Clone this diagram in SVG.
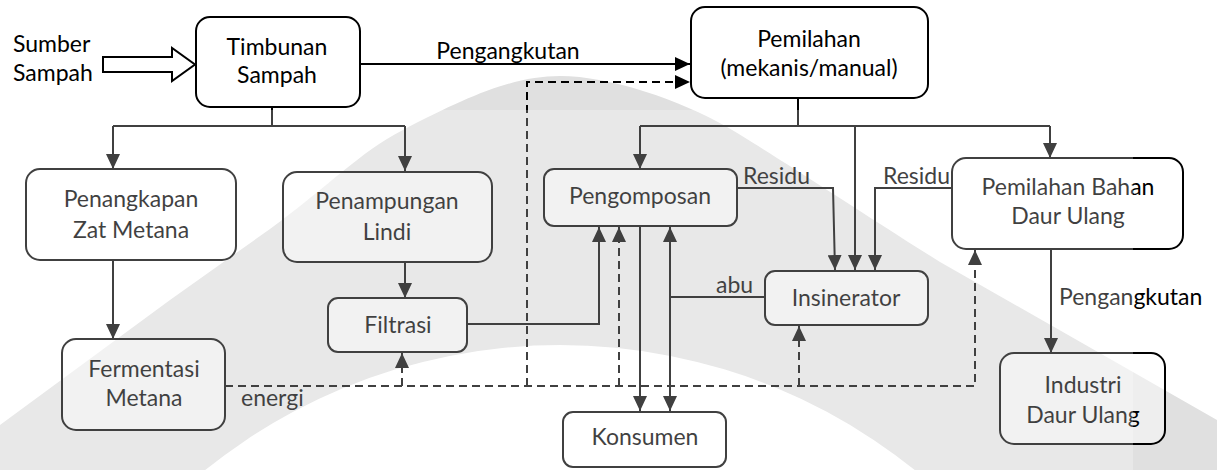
<svg xmlns="http://www.w3.org/2000/svg" width="1217" height="470" viewBox="0 0 1217 470">
<defs>
<style>
text{font-family:Lato,"Liberation Sans",sans-serif;font-size:23px;fill:#000}
.m{text-anchor:middle}
.node rect{fill:#fff;fill-opacity:.45;stroke:#000;stroke-width:2}
.c path{fill:none;stroke:#000;stroke-width:2}
.c .d{stroke-dasharray:8 5}
.c .a{marker-end:url(#ah)}
.c .b{marker-start:url(#ah);marker-end:url(#ah)}
</style>
<marker id="ah" viewBox="0 0 15 14" refX="15" refY="7" markerWidth="15" markerHeight="14" markerUnits="userSpaceOnUse" orient="auto-start-reverse"><path d="M0,0 L15,7 L0,14 Z" fill="#000"/></marker>
</defs>
<rect width="1217" height="470" fill="#fff"/>
<g id="watermark">
<path fill="#e0e0e0" fill-rule="evenodd" d="M0,425 L170,300 L270,229 C330,185 360,152 403,130 C470,95 515,76 560,76 C610,76 680,100 727,127 C760,146 850,205 940,262 L1217,420 V470 H0 Z M-6,911 A566,566 0 1 1 1126,911 A566,566 0 1 1 -6,911 Z"/>
</g>
<g id="connectors" class="c">
<path class="a" d="M360,64 H690"/>
<path d="M272,107 V126 M113,126 H405"/>
<path class="a" d="M113,126 V169"/>
<path class="a" d="M405,126 V171"/>
<path class="a" d="M113,260 V339"/>
<path class="a" d="M405,262 V298"/>
<path class="a" d="M467,324 H599 V227"/>
<path d="M798,98 V126 M640,126 H1050"/>
<path class="a" d="M640,126 V169"/>
<path class="a" d="M855,126 V270"/>
<path class="a" d="M1050,126 V158"/>
<path class="a" d="M737,188 H833 L835,270"/>
<path class="a" d="M952,188 H875 V270"/>
<path d="M765,297 H670"/>
<path class="a" d="M640,227 V411"/>
<path class="b" d="M670,227 V411"/>
<path class="a" d="M1051,249 V353"/>
<path class="d a" d="M225,386 H975 V250"/>
<path class="d a" d="M527,386 V82 H690"/>
<path class="d a" d="M402,386 V353"/>
<path class="d a" d="M619,386 V227"/>
<path class="d a" d="M799,386 V326"/>
<text x="508" y="59" class="m">Pengangkutan</text>
<text x="743" y="184">Residu</text>
<text x="883" y="184">Residu</text>
<text x="716" y="293">abu</text>
<text x="241" y="406">energi</text>
<text x="1059" y="305">Pengangkutan</text>
</g>
<g id="sumber">
<path d="M103,57 H172 V48 L195,64.5 L172,81 V72 H103 Z" fill="#fff" stroke="#000" stroke-width="2"/>
<text x="13" y="52">Sumber</text>
<text x="13" y="81">Sampah</text>
</g>
<g id="timbunan" class="node"><rect x="196" y="17" width="164" height="90" rx="14"/><text x="277" y="55" class="m">Timbunan</text><text x="277" y="83" class="m">Sampah</text></g>
<g id="pemilahan" class="node"><rect x="691" y="7" width="237" height="91" rx="14"/><text x="809" y="47" class="m">Pemilahan</text><text x="809" y="76" class="m">(mekanis/manual)</text></g>
<g id="penangkapan" class="node"><rect x="26" y="169" width="210" height="91" rx="14"/><text x="131" y="207" class="m">Penangkapan</text><text x="131" y="238" class="m">Zat Metana</text></g>
<g id="penampungan" class="node"><rect x="283" y="172" width="209" height="90" rx="14"/><text x="387" y="209" class="m">Penampungan</text><text x="387" y="240" class="m">Lindi</text></g>
<g id="filtrasi" class="node"><rect x="328" y="298" width="139" height="54" rx="10"/><text x="398" y="333" class="m">Filtrasi</text></g>
<g id="fermentasi" class="node"><rect x="62" y="339" width="163" height="91" rx="14"/><text x="144" y="377" class="m">Fermentasi</text><text x="144" y="406" class="m">Metana</text></g>
<g id="pengomposan" class="node"><rect x="544" y="169" width="193" height="57" rx="10"/><text x="640" y="204" class="m">Pengomposan</text></g>
<g id="insinerator" class="node"><rect x="765" y="271" width="163" height="54" rx="10"/><text x="846" y="306" class="m">Insinerator</text></g>
<g id="pemilahan-bahan" class="node"><rect x="952" y="158" width="231" height="91" rx="14"/><text x="1068" y="195" class="m">Pemilahan Bahan</text><text x="1068" y="224" class="m">Daur Ulang</text></g>
<g id="konsumen" class="node"><rect x="563" y="412" width="163" height="55" rx="10"/><text x="645" y="445" class="m">Konsumen</text></g>
<g id="industri" class="node"><rect x="1000" y="353" width="165" height="91" rx="14"/><text x="1083" y="393" class="m">Industri</text><text x="1083" y="423" class="m">Daur Ulang</text></g>
<rect id="fade" x="0" y="110" width="1133" height="360" fill="#fff" fill-opacity=".25"/>
</svg>
